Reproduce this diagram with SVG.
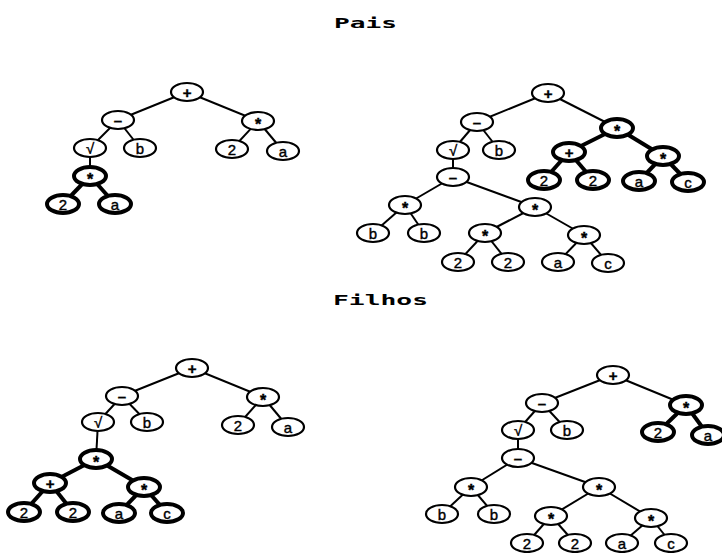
<svg xmlns="http://www.w3.org/2000/svg" width="722" height="553" viewBox="0 0 722 553">
<style>
.bg{fill:#fff}
.title{font-family:"DejaVu Sans Mono","Liberation Mono",monospace;font-weight:bold;font-size:20px;fill:#000}
.n ellipse{fill:#fff;stroke:#000;stroke-width:2.2}
.n.b ellipse{stroke-width:4}
.n text{font-family:"Liberation Sans","DejaVu Sans",sans-serif;font-size:15px;text-anchor:middle;dominant-baseline:central;fill:#000;stroke:#000;stroke-width:0.4}
.n text.op{font-weight:bold}
.n text.st{font-size:16px;font-weight:bold}
.e line{stroke:#000;stroke-width:2}
.e line.b{stroke-width:4}
</style>
<rect class="bg" x="0" y="0" width="722" height="553"/>
<text class="title" transform="translate(334,28) scale(1,0.7)" textLength="63" lengthAdjust="spacingAndGlyphs">Pais</text>
<text class="title" transform="translate(333,305) scale(1,0.7)" textLength="95" lengthAdjust="spacingAndGlyphs">Filhos</text>

<g id="connectors" class="e">
<!-- tree 1 -->
<line x1="187" y1="92" x2="118" y2="120"/>
<line x1="187" y1="92" x2="258" y2="121"/>
<line x1="118" y1="120" x2="90" y2="148"/>
<line x1="118" y1="120" x2="140" y2="148"/>
<line x1="258" y1="121" x2="232" y2="149"/>
<line x1="258" y1="121" x2="283" y2="151"/>
<line x1="90" y1="148" x2="90" y2="176"/>
<line class="b" x1="90" y1="176" x2="63" y2="204"/>
<line class="b" x1="90" y1="176" x2="115" y2="204"/>
<!-- tree 2 -->
<line x1="548" y1="93" x2="477" y2="122"/>
<line x1="548" y1="93" x2="617" y2="128"/>
<line x1="477" y1="122" x2="453" y2="150"/>
<line x1="477" y1="122" x2="499" y2="150"/>
<line class="b" x1="617" y1="128" x2="569" y2="152"/>
<line class="b" x1="617" y1="128" x2="663" y2="156"/>
<line class="b" x1="569" y1="152" x2="544" y2="180"/>
<line class="b" x1="569" y1="152" x2="593" y2="180"/>
<line class="b" x1="663" y1="156" x2="639" y2="181"/>
<line class="b" x1="663" y1="156" x2="688" y2="182"/>
<line x1="453" y1="150" x2="453" y2="177"/>
<line x1="453" y1="177" x2="405" y2="205"/>
<line x1="453" y1="177" x2="535" y2="207"/>
<line x1="405" y1="205" x2="373" y2="233"/>
<line x1="405" y1="205" x2="424" y2="233"/>
<line x1="535" y1="207" x2="485" y2="233"/>
<line x1="535" y1="207" x2="584" y2="235"/>
<line x1="485" y1="233" x2="458" y2="262"/>
<line x1="485" y1="233" x2="508" y2="262"/>
<line x1="584" y1="235" x2="558" y2="262"/>
<line x1="584" y1="235" x2="608" y2="263"/>
<!-- tree 3 -->
<line x1="192" y1="368" x2="122" y2="396"/>
<line x1="192" y1="368" x2="263" y2="397"/>
<line x1="122" y1="396" x2="98" y2="422"/>
<line x1="122" y1="396" x2="147" y2="422"/>
<line x1="263" y1="397" x2="238" y2="425"/>
<line x1="263" y1="397" x2="288" y2="427"/>
<line x1="98" y1="422" x2="96" y2="459"/>
<line class="b" x1="96" y1="459" x2="50" y2="483"/>
<line class="b" x1="96" y1="459" x2="144" y2="487"/>
<line class="b" x1="50" y1="483" x2="24" y2="512"/>
<line class="b" x1="50" y1="483" x2="73" y2="512"/>
<line class="b" x1="144" y1="487" x2="119" y2="513"/>
<line class="b" x1="144" y1="487" x2="167" y2="513"/>
<!-- tree 4 -->
<line x1="613" y1="375" x2="542" y2="403"/>
<line x1="613" y1="375" x2="686" y2="405"/>
<line x1="542" y1="403" x2="518" y2="430"/>
<line x1="542" y1="403" x2="567" y2="430"/>
<line class="b" x1="686" y1="405" x2="658" y2="432"/>
<line class="b" x1="686" y1="405" x2="708" y2="435"/>
<line x1="518" y1="430" x2="518" y2="458"/>
<line x1="518" y1="458" x2="471" y2="487"/>
<line x1="518" y1="458" x2="599" y2="487"/>
<line x1="471" y1="487" x2="442" y2="514"/>
<line x1="471" y1="487" x2="494" y2="514"/>
<line x1="599" y1="487" x2="551" y2="516"/>
<line x1="599" y1="487" x2="651" y2="518"/>
<line x1="551" y1="516" x2="527" y2="543"/>
<line x1="551" y1="516" x2="575" y2="543"/>
<line x1="651" y1="518" x2="622" y2="543"/>
<line x1="651" y1="518" x2="671" y2="543"/>
</g>

<!-- tree 1: Pais left -->
<g id="p1-plus" class="n" transform="translate(187,92)"><ellipse rx="16" ry="9"/><text class="op">+</text></g>
<g id="p1-minus" class="n" transform="translate(118,120)"><ellipse rx="16" ry="9"/><text class="op">–</text></g>
<g id="p1-times" class="n" transform="translate(258,121)"><ellipse rx="16" ry="9"/><text class="st" y="3">*</text></g>
<g id="p1-sqrt" class="n" transform="translate(90,148)"><ellipse rx="16" ry="9"/><text>√</text></g>
<g id="p1-b" class="n" transform="translate(140,148)"><ellipse rx="16" ry="9"/><text>b</text></g>
<g id="p1-2" class="n" transform="translate(232,149)"><ellipse rx="16" ry="9"/><text>2</text></g>
<g id="p1-a" class="n" transform="translate(283,151)"><ellipse rx="16" ry="9"/><text>a</text></g>
<g id="p1-times2" class="n b" transform="translate(90,176)"><ellipse rx="16" ry="9"/><text class="st" y="3">*</text></g>
<g id="p1-2b" class="n b" transform="translate(63,204)"><ellipse rx="16" ry="9"/><text>2</text></g>
<g id="p1-ab" class="n b" transform="translate(115,204)"><ellipse rx="16" ry="9"/><text>a</text></g>

<!-- tree 2: Pais right -->
<g id="p2-plus" class="n" transform="translate(548,93)"><ellipse rx="16" ry="9"/><text class="op">+</text></g>
<g id="p2-minus" class="n" transform="translate(477,122)"><ellipse rx="16" ry="9"/><text class="op">–</text></g>
<g id="p2-times" class="n b" transform="translate(617,128)"><ellipse rx="16" ry="9"/><text class="st" y="3">*</text></g>
<g id="p2-sqrt" class="n" transform="translate(453,150)"><ellipse rx="16" ry="9"/><text>√</text></g>
<g id="p2-b" class="n" transform="translate(499,150)"><ellipse rx="16" ry="9"/><text>b</text></g>
<g id="p2-plus2" class="n b" transform="translate(569,152)"><ellipse rx="16" ry="9"/><text class="op">+</text></g>
<g id="p2-times2" class="n b" transform="translate(663,156)"><ellipse rx="16" ry="9"/><text class="st" y="3">*</text></g>
<g id="p2-2a" class="n b" transform="translate(544,180)"><ellipse rx="16" ry="9"/><text>2</text></g>
<g id="p2-2b" class="n b" transform="translate(593,180)"><ellipse rx="16" ry="9"/><text>2</text></g>
<g id="p2-a" class="n b" transform="translate(639,181)"><ellipse rx="16" ry="9"/><text>a</text></g>
<g id="p2-c" class="n b" transform="translate(688,182)"><ellipse rx="16" ry="9"/><text>c</text></g>
<g id="p2-minus2" class="n" transform="translate(453,177)"><ellipse rx="16" ry="9"/><text class="op">–</text></g>
<g id="p2-times3" class="n" transform="translate(405,205)"><ellipse rx="16" ry="9"/><text class="st" y="3">*</text></g>
<g id="p2-times4" class="n" transform="translate(535,207)"><ellipse rx="16" ry="9"/><text class="st" y="3">*</text></g>
<g id="p2-b2" class="n" transform="translate(373,233)"><ellipse rx="16" ry="9"/><text>b</text></g>
<g id="p2-b3" class="n" transform="translate(424,233)"><ellipse rx="16" ry="9"/><text>b</text></g>
<g id="p2-times5" class="n" transform="translate(485,233)"><ellipse rx="16" ry="9"/><text class="st" y="3">*</text></g>
<g id="p2-times6" class="n" transform="translate(584,235)"><ellipse rx="16" ry="9"/><text class="st" y="3">*</text></g>
<g id="p2-2c" class="n" transform="translate(458,262)"><ellipse rx="16" ry="9"/><text>2</text></g>
<g id="p2-2d" class="n" transform="translate(508,262)"><ellipse rx="16" ry="9"/><text>2</text></g>
<g id="p2-a2" class="n" transform="translate(558,262)"><ellipse rx="16" ry="9"/><text>a</text></g>
<g id="p2-c2" class="n" transform="translate(608,263)"><ellipse rx="16" ry="9"/><text>c</text></g>

<!-- tree 3: Filhos left -->
<g id="f1-plus" class="n" transform="translate(192,368)"><ellipse rx="16" ry="9"/><text class="op">+</text></g>
<g id="f1-minus" class="n" transform="translate(122,396)"><ellipse rx="16" ry="9"/><text class="op">–</text></g>
<g id="f1-times" class="n" transform="translate(263,397)"><ellipse rx="16" ry="9"/><text class="st" y="3">*</text></g>
<g id="f1-sqrt" class="n" transform="translate(98,422)"><ellipse rx="16" ry="9"/><text>√</text></g>
<g id="f1-b" class="n" transform="translate(147,422)"><ellipse rx="16" ry="9"/><text>b</text></g>
<g id="f1-2" class="n" transform="translate(238,425)"><ellipse rx="16" ry="9"/><text>2</text></g>
<g id="f1-a" class="n" transform="translate(288,427)"><ellipse rx="16" ry="9"/><text>a</text></g>
<g id="f1-times2" class="n b" transform="translate(96,459)"><ellipse rx="16" ry="9"/><text class="st" y="3">*</text></g>
<g id="f1-plus2" class="n b" transform="translate(50,483)"><ellipse rx="16" ry="9"/><text class="op">+</text></g>
<g id="f1-times3" class="n b" transform="translate(144,487)"><ellipse rx="16" ry="9"/><text class="st" y="3">*</text></g>
<g id="f1-2a" class="n b" transform="translate(24,512)"><ellipse rx="16" ry="9"/><text>2</text></g>
<g id="f1-2b" class="n b" transform="translate(73,512)"><ellipse rx="16" ry="9"/><text>2</text></g>
<g id="f1-a2" class="n b" transform="translate(119,513)"><ellipse rx="16" ry="9"/><text>a</text></g>
<g id="f1-c" class="n b" transform="translate(167,513)"><ellipse rx="16" ry="9"/><text>c</text></g>

<!-- tree 4: Filhos right -->
<g id="f2-plus" class="n" transform="translate(613,375)"><ellipse rx="16" ry="9"/><text class="op">+</text></g>
<g id="f2-minus" class="n" transform="translate(542,403)"><ellipse rx="16" ry="9"/><text class="op">–</text></g>
<g id="f2-times" class="n b" transform="translate(686,405)"><ellipse rx="16" ry="9"/><text class="st" y="3">*</text></g>
<g id="f2-sqrt" class="n" transform="translate(518,430)"><ellipse rx="16" ry="9"/><text>√</text></g>
<g id="f2-b" class="n" transform="translate(567,430)"><ellipse rx="16" ry="9"/><text>b</text></g>
<g id="f2-2" class="n b" transform="translate(658,432)"><ellipse rx="16" ry="9"/><text>2</text></g>
<g id="f2-a" class="n b" transform="translate(708,435)"><ellipse rx="16" ry="9"/><text>a</text></g>
<g id="f2-minus2" class="n" transform="translate(518,458)"><ellipse rx="16" ry="9"/><text class="op">–</text></g>
<g id="f2-times2" class="n" transform="translate(471,487)"><ellipse rx="16" ry="9"/><text class="st" y="3">*</text></g>
<g id="f2-times3" class="n" transform="translate(599,487)"><ellipse rx="16" ry="9"/><text class="st" y="3">*</text></g>
<g id="f2-b2" class="n" transform="translate(442,514)"><ellipse rx="16" ry="9"/><text>b</text></g>
<g id="f2-b3" class="n" transform="translate(494,514)"><ellipse rx="16" ry="9"/><text>b</text></g>
<g id="f2-times4" class="n" transform="translate(551,516)"><ellipse rx="16" ry="9"/><text class="st" y="3">*</text></g>
<g id="f2-times5" class="n" transform="translate(651,518)"><ellipse rx="16" ry="9"/><text class="st" y="3">*</text></g>
<g id="f2-2a" class="n" transform="translate(527,543)"><ellipse rx="16" ry="9"/><text>2</text></g>
<g id="f2-2b" class="n" transform="translate(575,543)"><ellipse rx="16" ry="9"/><text>2</text></g>
<g id="f2-a2" class="n" transform="translate(622,543)"><ellipse rx="16" ry="9"/><text>a</text></g>
<g id="f2-c" class="n" transform="translate(671,543)"><ellipse rx="16" ry="9"/><text>c</text></g>
</svg>
